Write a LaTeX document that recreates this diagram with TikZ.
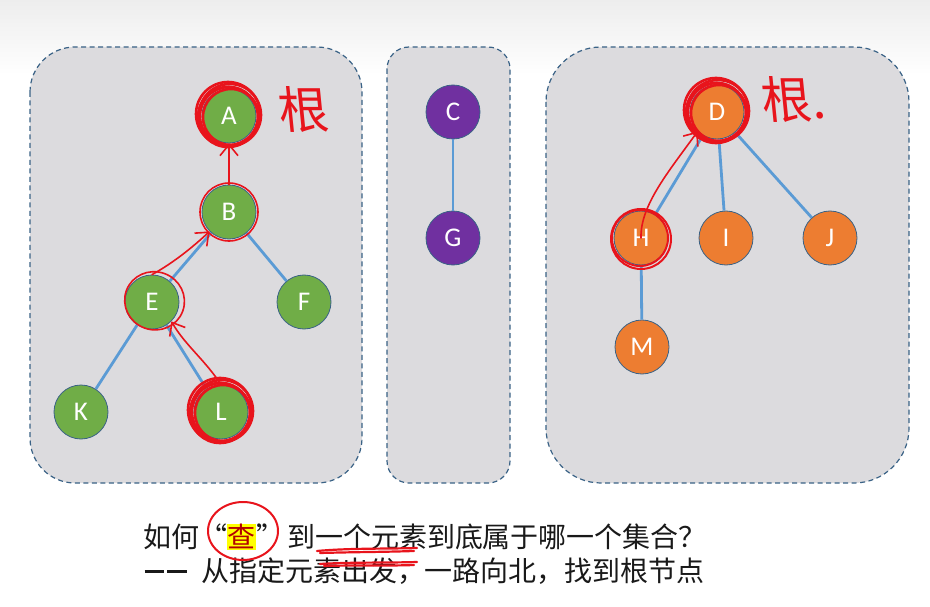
\documentclass[tikz,border=0pt]{standalone}
\usepackage{fontspec}
\setmainfont{Carlito}
\newfontfamily\cjk{Noto Sans CJK SC}
\usetikzlibrary{arrows.meta}
\definecolor{setgray}{HTML}{DCDBDE}
\definecolor{setline}{HTML}{3A6286}
\definecolor{leafgreen}{HTML}{70AD47}
\definecolor{leafpurple}{HTML}{7030A0}
\definecolor{leaforange}{HTML}{ED7D31}
\definecolor{edgeblue}{HTML}{5B9BD5}
\definecolor{inkred}{HTML}{E8141C}
\definecolor{hilite}{HTML}{FFFF00}
\setlength{\fboxsep}{0.5pt}
\newcommand{\openq}{\makebox[1em][r]{“}}
\newcommand{\closeq}{\makebox[1.1em][l]{”}}
\newcommand{\dashbar}{\makebox[0.8em]{\rule[0.3em]{0.7em}{0.1em}}}

\begin{document}
\begin{tikzpicture}[x=1pt,y=-1pt,
	elem/.style={circle,draw=setline,line width=0.8pt,minimum size=54pt,inner sep=0pt,text=white,font=\fontsize{27}{27}\selectfont},
	setbox/.style={draw=setline,fill=setgray,dash pattern=on 5pt off 3.5pt,line width=1.2pt},
	link/.style={edgeblue,line width=2.8pt},
	ink/.style={inkred,line width=1.6pt,line cap=round,line join=round},
	inktip/.style={-{Straight Barb[length=11pt,width=18pt]}},
	]
	\useasboundingbox (0,0) rectangle (930,607);
	\shade [top color=black!7, bottom color=white] (0,0) rectangle (930,75);
	% the three sets
	\draw [setbox,rounded corners=45pt] (30,47) rectangle (362,483);
	\draw [setbox,rounded corners=22pt] (387,47) rectangle (510,483);
	\draw [setbox,rounded corners=55pt] (546,47) rectangle (909,483);
	% elements
	\foreach \n/\x/\y in {A/229/116,B/229/212,E/152/302,F/304/302,K/81/412,L/221/412}{
	\node [elem,fill=leafgreen] (\n) at (\x,\y) {\n};
	}
	\foreach \n/\x/\y in {C/453/112,G/453/238}{
	\node [elem,fill=leafpurple] (\n) at (\x,\y) {\n};
	}
	\foreach \n/\x/\y in {D/717/112,H/641/238,I/726/238,J/830/238,M/642/347}{
	\node [elem,fill=leaforange] (\n) at (\x,\y) {\n};
	}
	\foreach \a/\b in {A/B,B/E,B/F,E/K,E/L,C/G,D/H,D/I,D/J,H/M}{
	\draw [link] (\a) -- (\b);
	}
	% red marks
	\foreach \dx/\dy/\r in {0/0/29,1/-1/31,-1/1/30,2/1/28,-1/-2/32}{
	\draw [ink,line width=2.6pt] ([shift={(\dx,\dy)}]A.center) circle (\r pt);
	\draw [ink,line width=2.6pt] ([shift={(\dx,\dy)}]L.center) circle (\r pt);
	\draw [ink,line width=2.6pt] ([shift={(\dx,\dy)}]D.center) circle (\r pt);
	}
	\draw [ink] (B.center) circle (29pt);
	\draw [ink,rotate around={-20:(E.center)}] ([shift={(2,-2)}]E.center) ellipse (30pt and 29pt);
	\draw [ink,line width=2pt] ([shift={(0,1)}]H.center) circle (30pt);
	\draw [ink,line width=2pt] ([shift={(-1,0)}]H.center) circle (28pt);
	\draw [ink,inktip] (B.north) -- (A.south);
	\draw [ink,inktip] (E.north) .. controls (175,262) and (195,245) .. (B.south west);
	\draw [ink,inktip] (L.north) .. controls (205,360) and (185,345) .. (E.south east);
	\draw [ink,inktip] (H.center) .. controls (640,205) and (670,170) .. (D.south west);
	\node [text=inkred,font=\cjk\fontsize{50}{50}\selectfont,xslant=-0.1] (rootA) at (304,110) {根};
	\node [text=inkred,font=\cjk\fontsize{50}{50}\selectfont,xslant=-0.1,anchor=west] (rootD) at (758,100) {根.};
	% question and answer
	\node [anchor=west,inner sep=0pt,text=black!90,font=\cjk\fontsize{28}{28}\selectfont] (ask) at (143,537)
	{如何\openq\colorbox{hilite}{\textcolor{red!70!black}{查}}\closeq 到一个元素到底属于哪一个集合？};
	\node [anchor=west,inner sep=0pt,text=black!90,font=\cjk\fontsize{28}{28}\selectfont] (reply) at (143,571)
	{\dashbar\dashbar\hspace{13pt}从指定元素出发，一路向北，找到根节点};
	\draw [ink,line width=2pt] (243,531) ellipse (35pt and 29pt);
	\draw [ink,line width=2.2pt] (317,551) .. controls (350,548) and (385,549) .. (417,548);
	\draw [ink,line width=2.2pt] (320,553) .. controls (355,552) and (385,552) .. (414,551);
	\draw [ink,line width=2.2pt] (320,564) .. controls (352,562) and (385,563) .. (417,562);
	\draw [ink,line width=2.2pt] (324,566) .. controls (355,565) and (390,566) .. (414,565);
\end{tikzpicture}
\end{document}
